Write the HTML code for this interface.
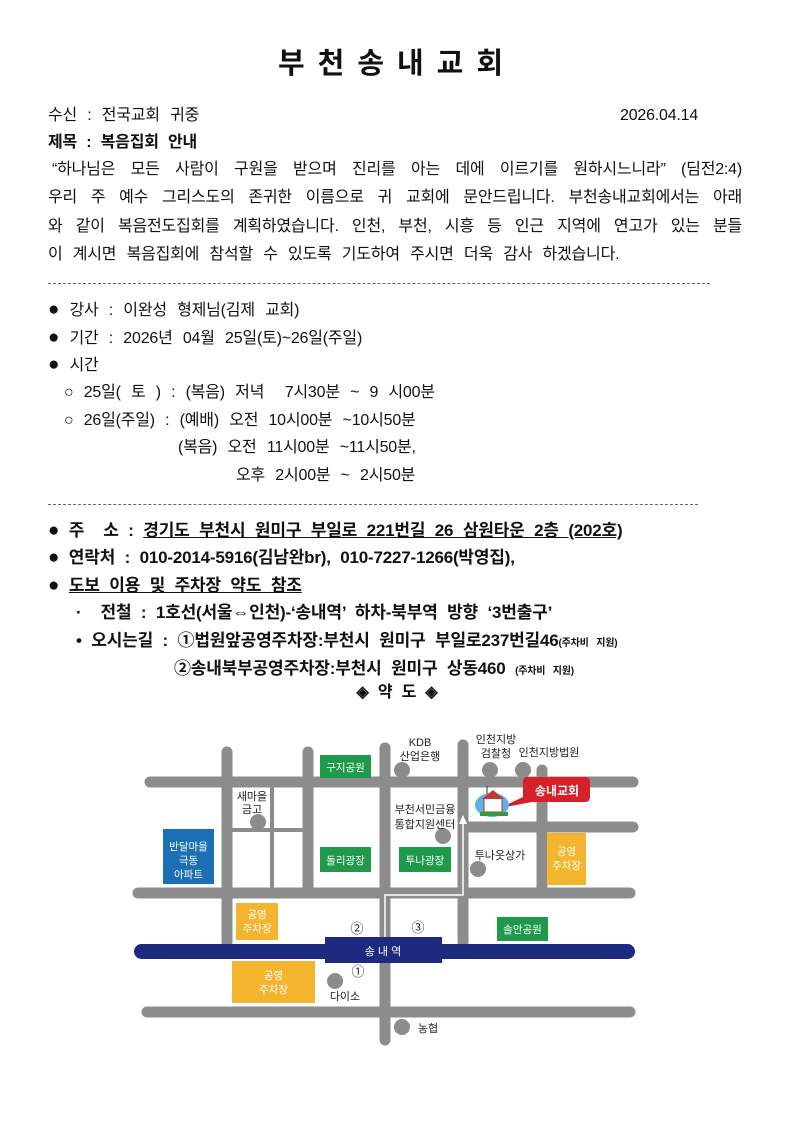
<!DOCTYPE html>
<html><head><meta charset="utf-8"><style>
body{margin:0;width:794px;height:1123px;background:#fff;position:relative;font-family:"Liberation Sans","Noto Sans CJK KR",sans-serif;color:#111;overflow:hidden}
.l{position:absolute;left:48px;font-size:16px;line-height:20px;white-space:nowrap;letter-spacing:-0.2px;word-spacing:6px}
.j{width:694px;text-align:justify;text-align-last:justify;white-space:normal;height:20px;overflow:hidden;word-spacing:0}
.b{font-weight:bold;font-size:17px;word-spacing:5px!important}
.u{text-decoration:underline}
.d{position:absolute;left:48px;width:662px;border-top:1px dashed #666;height:0}
.bl{font-size:19px;word-spacing:0}
svg text{font-family:"Liberation Sans","Noto Sans CJK KR",sans-serif}
</style></head><body>
<div style="position:absolute;left:0;width:794px;top:44px;text-align:center;font-size:29px;font-weight:bold;letter-spacing:13px;line-height:40px">부천송내교회</div>
<div class="l" style="top:106px">수신 : 전국교회 귀중</div>
<div class="l" style="top:106px;left:620px;word-spacing:0">2026.04.14</div>
<div class="l b" style="top:133px;font-size:16px">제목 : 복음집회 안내</div>
<div class="l j" style="top:160px;left:52px;width:690px">“하나님은 모든 사람이 구원을 받으며 진리를 아는 데에 이르기를 원하시느니라” (딤전2:4)</div>
<div class="l j" style="top:188px">우리 주 예수 그리스도의 존귀한 이름으로 귀 교회에 문안드립니다. 부천송내교회에서는 아래</div>
<div class="l j" style="top:217px">와 같이 복음전도집회를 계획하였습니다. 인천, 부천, 시흥 등 인근 지역에 연고가 있는 분들</div>
<div class="l" style="top:245px">이 계시면 복음집회에 참석할 수 있도록 기도하여 주시면 더욱 감사 하겠습니다.</div>
<div class="d" style="top:283px"></div>
<div class="l" style="top:300px"><span class="bl">●</span> 강사 : 이완성 형제님(김제 교회)</div>
<div class="l" style="top:328px"><span class="bl">●</span> 기간 : 2026년 04월 25일(토)~26일(주일)</div>
<div class="l" style="top:355px"><span class="bl">●</span> 시간</div>
<div class="l" style="top:383px;left:64px">○ 25일( 토 ) : (복음) 저녁 &nbsp;7시30분 ~ 9 시00분</div>
<div class="l" style="top:411px;left:64px">○ 26일(주일) : (예배) 오전 10시00분 ~10시50분</div>
<div class="l" style="top:438px;left:178px">(복음) 오전 11시00분 ~11시50분,</div>
<div class="l" style="top:466px;left:236px">오후 2시00분 ~ 2시50분</div>
<div class="d" style="top:504px;width:650px"></div>
<div class="l b" style="top:521px"><span class="bl">●</span> 주 &nbsp;소 : <span class="u">경기도 부천시 원미구 부일로 221번길 26 삼원타운 2층 (202호)</span></div>
<div class="l b" style="top:548px"><span class="bl">●</span> 연락처 : 010-2014-5916(김남완br), 010-7227-1266(박영집),</div>
<div class="l b" style="top:576px"><span class="bl">●</span> <span class="u">도보 이용 및 주차장 약도 참조</span></div>
<div class="l b" style="top:603px;left:76px">· &nbsp;전철 : 1호선(서울⇔인천)-‘송내역’ 하차-북부역 방향 ‘3번출구’</div>
<div class="l b" style="top:631px;left:76px">• 오시는길 : ①법원앞공영주차장:부천시 원미구 부일로237번길46<span style="font-size:10px">(주차비 지원)</span></div>
<div class="l b" style="top:659px;left:174px">②송내북부공영주차장:부천시 원미구 상동460 <span style="font-size:10px">(주차비 지원)</span></div>
<div class="l b" style="top:683px;left:0;width:794px;text-align:center;font-size:16px">◈ 약 도 ◈</div>

<svg style="position:absolute;left:0;top:0" width="794" height="1123">
<g stroke="#8c8c8c" stroke-width="11" stroke-linecap="round" fill="none">
<line x1="150" y1="782" x2="633" y2="782"/>
<line x1="138" y1="893" x2="630" y2="893"/>
<line x1="147" y1="1012" x2="630" y2="1012"/>
<line x1="463" y1="827" x2="633" y2="827"/>
<line x1="227" y1="752" x2="227" y2="942"/>
<line x1="308" y1="752" x2="308" y2="893"/>
<line x1="385" y1="748" x2="385" y2="1040"/>
<line x1="463" y1="745" x2="463" y2="942"/>
<line x1="542" y1="770" x2="542" y2="893"/>
</g>
<g stroke="#8c8c8c" stroke-width="4">
<line x1="272" y1="782" x2="272" y2="893"/>
<line x1="227" y1="830" x2="308" y2="830"/>
</g>
<rect x="134" y="944" width="501" height="15" rx="7.5" fill="#1e2a80"/>
<rect x="325" y="937" width="117" height="26" fill="#1e2a80"/>
<text x="383" y="955" fill="#fff" font-size="11" text-anchor="middle">송 내 역</text>
<polyline points="385,937 385,895 463,895 463,823" fill="none" stroke="#fff" stroke-width="1.5"/>
<polygon points="463,815 459,824 467,824" fill="#fff"/>
<g font-size="10.5" fill="#fff" text-anchor="middle">
<rect x="320" y="755" width="51" height="23" fill="#1f9a4b"/><text x="345.5" y="771">구지공원</text>
<rect x="320" y="847" width="51" height="25" fill="#1f9a4b"/><text x="345.5" y="864">돌리광장</text>
<rect x="399" y="847" width="52" height="25" fill="#1f9a4b"/><text x="425" y="864">투나광장</text>
<rect x="497" y="917" width="51" height="24" fill="#1f9a4b"/><text x="522.5" y="933">솔안공원</text>
<rect x="163" y="829" width="51" height="55" fill="#1b6fb5"/><text x="188.5" y="850">반달마을</text><text x="188.5" y="864">극동</text><text x="188.5" y="878">아파트</text>
<rect x="547" y="833" width="39" height="52" fill="#f4b52e"/><text x="566.5" y="855">공영</text><text x="566.5" y="869">주차장</text>
<rect x="236" y="903" width="42" height="37" fill="#f4b52e"/><text x="257" y="918">공영</text><text x="257" y="932">주차장</text>
<rect x="232" y="961" width="83" height="42" fill="#f4b52e"/><text x="273.5" y="979">공영</text><text x="273.5" y="993">주차장</text>
</g>
<g fill="#8c8c8c">
<circle cx="402" cy="770" r="8"/><circle cx="490" cy="770" r="8"/><circle cx="523" cy="770" r="8"/>
<circle cx="258" cy="822" r="8"/><circle cx="443" cy="836" r="8"/><circle cx="478" cy="869" r="8"/>
<circle cx="335" cy="981" r="8"/><circle cx="402" cy="1027" r="8"/>
</g>
<g font-size="11" fill="#222" text-anchor="middle">
<text x="420" y="746">KDB</text><text x="420" y="760">산업은행</text>
<text x="496" y="743">인천지방</text><text x="496" y="757">검찰청</text>
<text x="549" y="756">인천지방법원</text>
<text x="252" y="800">새마을</text><text x="252" y="813">금고</text>
<text x="425" y="813">부천서민금융</text><text x="425" y="828">통합지원센터</text>
<text x="500" y="859">투나옷상가</text>
<text x="345" y="1000">다이소</text>
<text x="428" y="1032">농협</text>
<text x="357" y="933" font-size="13">②</text><text x="418" y="932" font-size="13">③</text><text x="358" y="976" font-size="13">①</text>
</g>
<path d="M527,777 H585 Q590,777 590,782 V797 Q590,802 585,802 H532 L500,808 L523,797 V782 Q523,777 527,777 Z" fill="#d8202a"/>
<text x="557" y="795" font-size="12" fill="#fff" text-anchor="middle" font-weight="bold">송내교회</text>
<ellipse cx="492" cy="805" rx="17" ry="12" fill="#5ab4e8"/>
<rect x="484" y="798" width="18" height="14" fill="#fff" stroke="#a33" stroke-width="1"/>
<polygon points="482,799 493,790 504,799" fill="#c0392b"/>
<line x1="487" y1="786" x2="487" y2="794" stroke="#333"/>
<rect x="480" y="812" width="28" height="4" fill="#3a9a3a"/>
</svg>
</body></html>
